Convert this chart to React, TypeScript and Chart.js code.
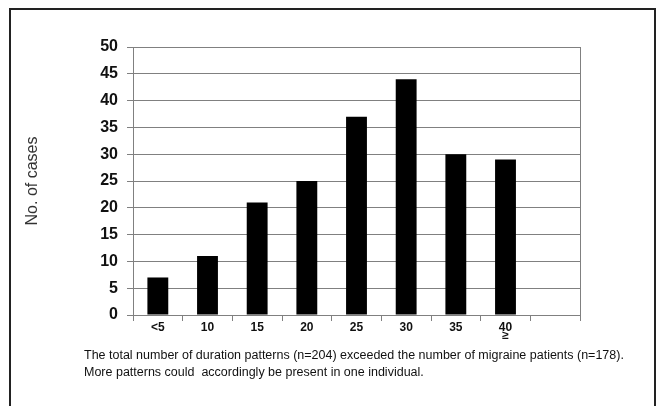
import React, { useEffect, useRef } from 'react';
import { Chart, registerables } from 'chart.js';

Chart.register(...registerables);

// Duration categories (last slot is an empty category, as in the original)
const categories: (string | string[])[] = ['<5', '10', '15', '20', '25', '30', '35', ['40', '≥'], ''];
// Number of cases per duration category
const cases: (number | null)[] = [7, 11, 21, 25, 37, 44, 30, 29, null];
const yMin = 0;
const yMax = 50;
const yStep = 5;
const yTitle = 'No. of cases';
const captionLines = [
  'The total number of duration patterns (n=204) exceeded the number of migraine patients (n=178).',
  'More patterns could  accordingly be present in one individual.',
];

const FONT = "'Liberation Sans', Arial, Helvetica, sans-serif";

const frameLine = {
  id: 'frameLine',
  afterDraw(chart: any) {
    const { ctx, chartArea } = chart;
    ctx.save();
    ctx.strokeStyle = '#808080';
    ctx.lineWidth = 1;
    ctx.beginPath();
    ctx.moveTo(Math.round(chartArea.right) + 0.5, chartArea.top);
    ctx.lineTo(Math.round(chartArea.right) + 0.5, chartArea.bottom);
    ctx.stroke();
    ctx.restore();
  },
};

export default function App() {
  const ref = useRef<HTMLCanvasElement | null>(null);

  useEffect(() => {
    if (!ref.current) return;
    const chart = new Chart(ref.current, {
      type: 'bar',
      data: {
        labels: categories as any,
        datasets: [
          {
            data: cases as any,
            backgroundColor: '#000000',
            borderWidth: 0,
            barPercentage: 0.42,
            categoryPercentage: 1,
          },
        ],
      },
      options: {
        animation: false,
        responsive: false,
        devicePixelRatio: 1,
        layout: { padding: { left: 0, right: 81, top: 47, bottom: 0 } },
        plugins: {
          legend: { display: false },
          tooltip: { enabled: false },
        },
        scales: {
          x: {
            grid: {
              offset: true,
              drawOnChartArea: false,
              drawTicks: true,
              tickLength: 6,
              color: '#808080',
            },
            border: { display: true, color: '#808080' },
            ticks: {
              autoSkip: false,
              maxRotation: 0,
              padding: 3,
              color: '#111111',
              font: { family: FONT, size: 12, weight: 'bold', lineHeight: '8px' } as any,
            },
            afterFit: (s: any) => {
              s.height = 91;
            },
          },
          y: {
            min: yMin,
            max: yMax,
            ticks: {
              stepSize: yStep,
              padding: 9,
              color: '#111111',
              font: { family: FONT, size: 16, weight: 'bold' } as any,
            },
            grid: { color: '#808080', tickLength: 6, lineWidth: 1 },
            border: { display: true, color: '#808080' },
            title: {
              display: true,
              text: yTitle,
              color: '#333333',
              font: { family: FONT, size: 16 },
              padding: { top: 23, bottom: 0 },
            },
            afterFit: (s: any) => {
              s.width = 133;
            },
          },
        },
      },
      plugins: [frameLine],
    });
    return () => chart.destroy();
  }, []);

  return (
    <div style={{ position: 'fixed', left: 0, top: 0, width: 661, height: 406, background: '#fff', overflow: 'hidden' }}>
      <div
        style={{
          position: 'absolute',
          left: 9,
          top: 8,
          width: 643,
          height: 420,
          border: '2px solid #222',
          boxSizing: 'content-box',
        }}
      />
      <canvas ref={ref} width={661} height={406} style={{ position: 'absolute', left: 0, top: 0 }} />
      <div
        style={{
          position: 'absolute',
          left: 84,
          top: 347,
          fontFamily: FONT,
          fontSize: 12.5,
          lineHeight: '17px',
          color: '#111',
          whiteSpace: 'pre',
        }}
      >
        {captionLines.map((l, i) => (
          <div key={i}>{l}</div>
        ))}
      </div>
    </div>
  );
}
